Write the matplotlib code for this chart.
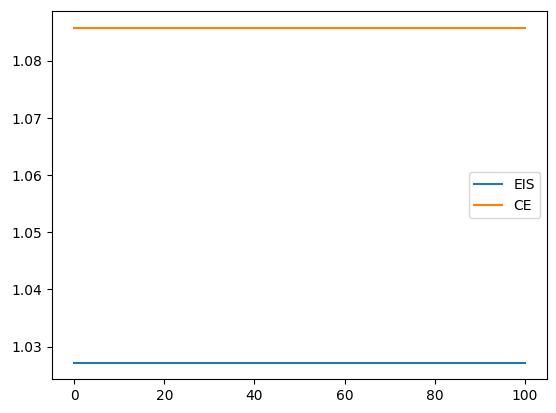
import matplotlib
matplotlib.use("Agg")
import matplotlib.pyplot as plt

# data
x_vals = [0, 100]
eis_vals = [1.0272, 1.0272]
ce_vals = [1.0858, 1.0858]

fig = plt.figure(figsize=(5.56, 4.13), dpi=100)
ax = fig.add_axes([51.7 / 556, (413 - 379.3) / 413, 495.6 / 556, 368.3 / 413])

ax.plot(x_vals, eis_vals, label="EIS")
ax.plot(x_vals, ce_vals, label="CE")
ax.legend(loc="center right")

fig.savefig("out.png", dpi=100)
